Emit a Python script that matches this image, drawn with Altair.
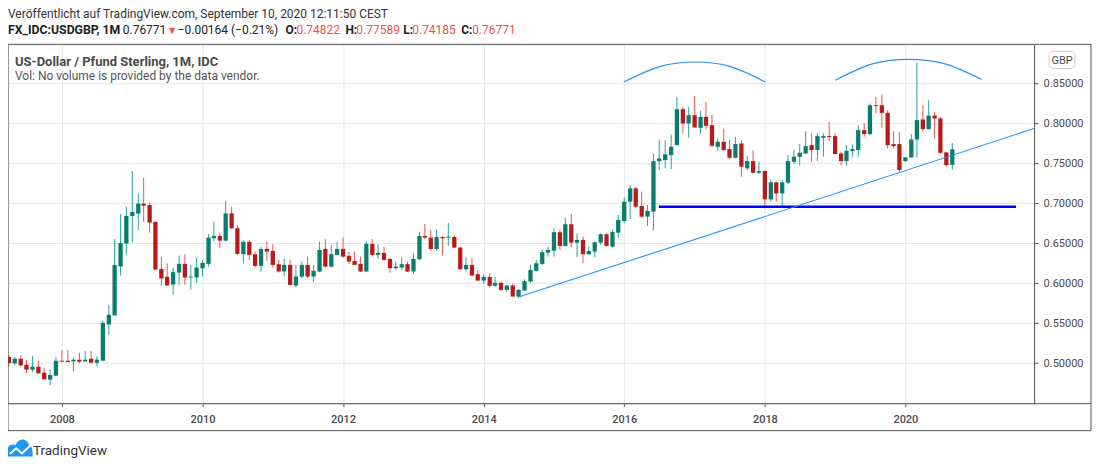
import altair as alt
import pandas as pd

# ---------------- data (monthly candles, Apr 2007 .. Sep 2020) ----------------
dates = pd.date_range("2007-04-01", periods=162, freq="MS").strftime("%Y-%m-%d").tolist()

opens = [
    0.5075, 0.4996, 0.5054, 0.4979, 0.4917, 0.4954, 0.4879, 0.4792, 0.4842,
    0.5029, 0.5029, 0.5021, 0.5042, 0.5021, 0.5054, 0.5004, 0.5029, 0.5483, 0.5596, 0.6209, 0.6496,
    0.6842, 0.6871, 0.6996, 0.6979, 0.6767, 0.6179, 0.6080, 0.5984, 0.6133, 0.6242, 0.6071, 0.6071,
    0.6187, 0.6242, 0.6563, 0.6592, 0.6533, 0.6875, 0.6688, 0.6363, 0.6517, 0.6362, 0.6217, 0.6429,
    0.6404, 0.6238, 0.6146, 0.6229, 0.5971, 0.6083, 0.6229, 0.6083, 0.6146, 0.6429, 0.6208, 0.6354,
    0.6429, 0.6342, 0.6279, 0.6242, 0.6146, 0.6492, 0.6354, 0.6379, 0.6304, 0.6188, 0.6196, 0.6238,
    0.6146, 0.6300, 0.6592, 0.6571, 0.6429, 0.6579, 0.6571, 0.6579, 0.6446, 0.6175, 0.6229, 0.6113,
    0.6033, 0.6079, 0.5967, 0.6004, 0.5917, 0.5971, 0.5833, 0.5908, 0.6021, 0.6154, 0.6242, 0.6383,
    0.6408, 0.6638, 0.6467, 0.6738, 0.6508, 0.6542, 0.6363, 0.6396, 0.6508, 0.6613, 0.6458, 0.6633,
    0.6779, 0.7021, 0.7188, 0.6967, 0.6833, 0.6896, 0.7529, 0.7542, 0.7604, 0.7729, 0.8179, 0.8000,
    0.8104, 0.7946, 0.8083, 0.7979, 0.7708, 0.7771, 0.7679, 0.7571, 0.7750, 0.7438, 0.7529, 0.7383,
    0.7404, 0.7050, 0.7263, 0.7125, 0.7258, 0.7521, 0.7583, 0.7625, 0.7729, 0.7667, 0.7821, 0.7842,
    0.7842, 0.7625, 0.7529, 0.7654, 0.7667, 0.7917, 0.7867, 0.8229, 0.8229, 0.8133, 0.7742, 0.7742,
    0.7529, 0.7575, 0.7800, 0.8050, 0.7929, 0.8100, 0.8063, 0.7638, 0.74822,
]
highs = [
    0.5104, 0.5075, 0.5092, 0.5042, 0.5092, 0.5029, 0.4942, 0.4917, 0.5079,
    0.5167, 0.5167, 0.5063, 0.5129, 0.5154, 0.5154, 0.5083, 0.5529, 0.5729, 0.6554, 0.6867, 0.6959,
    0.7404, 0.7125, 0.7321, 0.7009, 0.6779, 0.6329, 0.6250, 0.6196, 0.6346, 0.6363, 0.6229, 0.6321,
    0.6292, 0.6613, 0.6771, 0.6625, 0.7029, 0.6958, 0.6729, 0.6542, 0.6542, 0.6396, 0.6458, 0.6521,
    0.6488, 0.6292, 0.6304, 0.6292, 0.6229, 0.6271, 0.6333, 0.6229, 0.6521, 0.6550, 0.6479, 0.6521,
    0.6571, 0.6388, 0.6396, 0.6333, 0.6521, 0.6554, 0.6488, 0.6454, 0.6313, 0.6271, 0.6321, 0.6271,
    0.6375, 0.6646, 0.6742, 0.6667, 0.6671, 0.6588, 0.6754, 0.6604, 0.6458, 0.6321, 0.6313, 0.6167,
    0.6113, 0.6125, 0.6083, 0.6021, 0.5979, 0.6000, 0.5925, 0.6050, 0.6229, 0.6292, 0.6417, 0.6458,
    0.6688, 0.6667, 0.6821, 0.6867, 0.6625, 0.6583, 0.6458, 0.6521, 0.6625, 0.6625, 0.6675, 0.6854,
    0.7075, 0.7229, 0.7208, 0.7146, 0.6979, 0.7625, 0.7800, 0.7792, 0.7863, 0.8333, 0.8208, 0.8208,
    0.8342, 0.8158, 0.8271, 0.8104, 0.7813, 0.7938, 0.7792, 0.7833, 0.7792, 0.7596, 0.7667, 0.7521,
    0.7417, 0.7300, 0.7271, 0.7292, 0.7604, 0.7667, 0.7742, 0.7904, 0.7875, 0.7875, 0.7875, 0.8021,
    0.7875, 0.7646, 0.7729, 0.7738, 0.7979, 0.8000, 0.8250, 0.8333, 0.8363, 0.8167, 0.7904, 0.7896,
    0.7583, 0.7867, 0.8763, 0.8229, 0.8292, 0.8146, 0.8083, 0.7646, 0.77589,
]
lows = [
    0.4958, 0.4971, 0.4958, 0.4871, 0.4884, 0.4867, 0.4792, 0.4721, 0.4834,
    0.5017, 0.5013, 0.4896, 0.4996, 0.5017, 0.5000, 0.4958, 0.5029, 0.5354, 0.5596, 0.6096, 0.6354,
    0.6509, 0.6667, 0.6767, 0.6634, 0.6171, 0.5971, 0.5971, 0.5859, 0.5979, 0.5979, 0.5917, 0.5999,
    0.6083, 0.6208, 0.6521, 0.6438, 0.6521, 0.6679, 0.6354, 0.6250, 0.6292, 0.6196, 0.6138, 0.6279,
    0.6196, 0.6133, 0.6083, 0.5971, 0.5950, 0.6063, 0.6063, 0.6013, 0.6138, 0.6196, 0.6196, 0.6354,
    0.6321, 0.6238, 0.6229, 0.6138, 0.6146, 0.6333, 0.6304, 0.6283, 0.6133, 0.6167, 0.6167, 0.6138,
    0.6113, 0.6292, 0.6554, 0.6404, 0.6413, 0.6346, 0.6467, 0.6438, 0.6167, 0.6146, 0.6083, 0.6029,
    0.5992, 0.5946, 0.5958, 0.5904, 0.5888, 0.5833, 0.5813, 0.5908, 0.6000, 0.6146, 0.6229, 0.6333,
    0.6333, 0.6417, 0.6458, 0.6450, 0.6325, 0.6250, 0.6354, 0.6325, 0.6479, 0.6458, 0.6446, 0.6563,
    0.6750, 0.6804, 0.6938, 0.6813, 0.6717, 0.6658, 0.7417, 0.7438, 0.7429, 0.7729, 0.7875, 0.7821,
    0.7950, 0.7875, 0.7925, 0.7708, 0.7654, 0.7658, 0.7554, 0.7563, 0.7333, 0.7417, 0.7375, 0.7367,
    0.6938, 0.7021, 0.7021, 0.6938, 0.7242, 0.7492, 0.7479, 0.7613, 0.7521, 0.7529, 0.7583, 0.7779,
    0.7617, 0.7479, 0.7471, 0.7583, 0.7583, 0.7833, 0.7854, 0.8125, 0.7946, 0.7688, 0.7688, 0.7396,
    0.7521, 0.7575, 0.7571, 0.7904, 0.7929, 0.7813, 0.7617, 0.7458, 0.74185,
]
closes = [
    0.5000, 0.5054, 0.4971, 0.4917, 0.4954, 0.4871, 0.4796, 0.4850, 0.5029,
    0.5017, 0.5013, 0.5042, 0.5017, 0.5042, 0.5004, 0.5042, 0.5504, 0.5604, 0.6229, 0.6504, 0.6842,
    0.6892, 0.6996, 0.6971, 0.6759, 0.6171, 0.6059, 0.5971, 0.6138, 0.6242, 0.6071, 0.6083, 0.6196,
    0.6254, 0.6571, 0.6592, 0.6533, 0.6875, 0.6688, 0.6367, 0.6517, 0.6354, 0.6217, 0.6429, 0.6396,
    0.6229, 0.6146, 0.6229, 0.5979, 0.6083, 0.6229, 0.6083, 0.6154, 0.6417, 0.6208, 0.6363, 0.6429,
    0.6333, 0.6271, 0.6229, 0.6146, 0.6492, 0.6354, 0.6379, 0.6292, 0.6188, 0.6208, 0.6238, 0.6146,
    0.6304, 0.6592, 0.6571, 0.6429, 0.6579, 0.6563, 0.6583, 0.6446, 0.6175, 0.6229, 0.6096, 0.6033,
    0.6079, 0.5967, 0.6004, 0.5917, 0.5971, 0.5833, 0.5917, 0.6025, 0.6167, 0.6250, 0.6388, 0.6417,
    0.6638, 0.6467, 0.6738, 0.6508, 0.6542, 0.6363, 0.6404, 0.6513, 0.6613, 0.6467, 0.6642, 0.6792,
    0.7021, 0.7188, 0.6958, 0.6833, 0.6904, 0.7529, 0.7563, 0.7613, 0.7708, 0.8179, 0.8000, 0.8104,
    0.7950, 0.8083, 0.7971, 0.7721, 0.7771, 0.7667, 0.7571, 0.7742, 0.7458, 0.7529, 0.7383, 0.7404,
    0.7050, 0.7263, 0.7125, 0.7263, 0.7529, 0.7583, 0.7633, 0.7717, 0.7667, 0.7842, 0.7842, 0.7829,
    0.7617, 0.7529, 0.7658, 0.7679, 0.7917, 0.7867, 0.8229, 0.8217, 0.8133, 0.7729, 0.7717, 0.7417,
    0.7575, 0.7800, 0.8042, 0.7929, 0.8100, 0.8063, 0.7633, 0.7479, 0.76771,
]

# drawings on the chart (date, price)
support_dates = ["2016-06-29", "2021-07-29"]
support_prices = [0.6958, 0.6958]
trend_dates = ["2014-07-05", "2021-10-31"]
trend_prices = [0.5829, 0.7938]
arc1_dates = ["2015-12-30", "2016-07-04", "2017-01-05", "2017-07-07", "2018-01-03"]
arc1_prices = [0.8520, 0.8713, 0.8770, 0.8713, 0.8520]
arc2_dates = ["2019-01-01", "2019-07-09", "2020-01-17", "2020-07-26", "2021-01-31"]
arc2_prices = [0.8541, 0.8744, 0.8804, 0.8746, 0.8550]

y_ticks = [0.50, 0.55, 0.60, 0.65, 0.70, 0.75, 0.80, 0.85]
x_tick_years = [2008, 2010, 2012, 2014, 2016, 2018, 2020]

# ---------------- styling ----------------
FONT = "Roboto"
UP_BODY, UP_WICK = "#0a7d6c", "#26a69a"
DN_BODY, DN_WICK = "#b71c1c", "#ef5350"
TXT = "#4a4a4a"
FRAME = "#555555"
W, H = 1028, 360

df = pd.DataFrame({"date": dates, "open": opens, "high": highs, "low": lows, "close": closes})

xscale = alt.Scale(type="utc", domain=["2007-03-27", "2021-10-31"], padding=0, nice=False)
yscale = alt.Scale(domain=[0.4491, 0.8991], zero=False, nice=False, padding=0)

x_axis = alt.Axis(
    values=[alt.DateTime(year=y, month=1, date=1, utc=True) for y in x_tick_years],
    format="%Y", title=None, grid=True, gridColor="#e6e6e6", domain=False,
    tickColor=FRAME, tickSize=3, labelPadding=7, labelFont=FONT, labelFontSize=11,
    labelColor=TXT, labelFontWeight=500,
)
y_axis = alt.Axis(
    orient="right", values=y_ticks, format=".5f", title=None, grid=True,
    gridColor="#e6e6e6", domainColor=FRAME, tickColor=FRAME, tickSize=4,
    labelPadding=5, labelFont=FONT, labelFontSize=11, labelColor=TXT,
)

base = alt.Chart(df)
is_up = "datum.close >= datum.open"

wicks = base.mark_rule(strokeWidth=1).encode(
    x=alt.X("date:T", scale=xscale, axis=x_axis),
    y=alt.Y("low:Q", scale=yscale, axis=y_axis),
    y2="high:Q",
    color=alt.condition(is_up, alt.value(UP_WICK), alt.value(DN_WICK)),
)
bodies = base.mark_bar(size=4.3).encode(
    x="date:T",
    y="open:Q",
    y2="close:Q",
    color=alt.condition(is_up, alt.value(UP_BODY), alt.value(DN_BODY)),
)

def line_layer(d, p, color, width, interp="linear"):
    return alt.Chart(pd.DataFrame({"date": d, "price": p})).mark_line(
        color=color, strokeWidth=width, interpolate=interp
    ).encode(x="date:T", y="price:Q")

support = line_layer(support_dates, support_prices, "#0000ff", 2.4)
trend = line_layer(trend_dates, trend_prices, "#2196f3", 1.1)
arc1 = line_layer(arc1_dates, arc1_prices, "#2196f3", 1.2, "natural")
arc2 = line_layer(arc2_dates, arc2_prices, "#2196f3", 1.2, "natural")

one = pd.DataFrame({"k": [0]})

def txt(s, x, y, size=12, color=TXT, weight="normal", align="left"):
    return alt.Chart(one).mark_text(
        text=s, font=FONT, fontSize=size, color=color, fontWeight=weight,
        align=align, baseline="alphabetic",
    ).encode(x=alt.value(x), y=alt.value(y))

def rule(x1, x2, y1, y2):
    return alt.Chart(one).mark_rule(color=FRAME, strokeWidth=1).encode(
        x=alt.value(x1), x2=alt.value(x2), y=alt.value(y1), y2=alt.value(y2)
    )

RED = "#ef5350"
DARK = "#222222"
texts = [
    txt("Veröffentlicht auf TradingView.com, September 10, 2020 12:11:50 CEST", 0, -26, 12, "#333333"),
    txt("FX_IDC:USDGBP, 1M", 0, -10, 12.3, DARK, "bold"),
    txt("0.76771", 115, -10, 12, DARK),
    txt("▼", 159, -10, 11, RED),
    txt("−0.00164 (−0.21%)", 170, -10, 12, DARK),
    txt("O:", 278, -10, 12, DARK, "bold"),
    txt("0.74822", 289, -10, 12, RED),
    txt("H:", 338, -10, 12, DARK, "bold"),
    txt("0.77589", 349, -10, 12, RED),
    txt("L:", 396, -10, 12, DARK, "bold"),
    txt("0.74185", 405, -10, 12, RED),
    txt("C:", 454, -10, 12, DARK, "bold"),
    txt("0.76771", 465, -10, 12, RED),
    txt("US-Dollar / Pfund Sterling, 1M, IDC", 7, 22, 13, TXT, "bold"),
    txt("Vol: No volume is provided by the data vendor.", 7, 36, 12, "#555555"),
    txt("GBP", 1056, 20, 11, TXT, "normal", "center"),
    txt("TradingView", 25, 411, 13.5, "#333333"),
]

gbp_box = alt.Chart(one).mark_rect(
    fill="white", stroke="#cccccc", strokeWidth=1, cornerRadius=4
).encode(x=alt.value(1043), x2=alt.value(1069), y=alt.value(7), y2=alt.value(24))

frame = [
    rule(0, 1028, 0, 0),
    rule(1028, 1085, 0, 0),
    rule(0, 1085, 360, 360),
    rule(0, 1085, 387, 387),
    rule(0, 0, 0, 387),
    rule(1085, 1085, 0, 387),
]

logo = alt.Chart(one).mark_point(
    shape="M -1 0.55 L -1 0.05 C -1 -0.35 -0.6 -0.5 -0.35 -0.35 C -0.15 -0.95 0.6 -0.95 0.72 -0.3 C 1 -0.3 1 0.1 1 0.55 Z",
    filled=True, fill="#2196f3", opacity=1, size=650, strokeWidth=0,
).encode(x=alt.value(12), y=alt.value(406))
logo_zig = alt.Chart(one).mark_point(
    shape="M -0.8 0.35 L -0.3 -0.1 L 0.15 0.3 L 0.8 -0.3",
    filled=False, stroke="white", strokeWidth=2, opacity=1, size=650,
).encode(x=alt.value(12), y=alt.value(406))

chart = alt.layer(
    wicks, bodies, support, trend, arc1, arc2, gbp_box, logo, logo_zig, *frame, *texts
).properties(
    width=W, height=H,
    autosize=alt.AutoSizeParams(type="none"),
    padding={"left": 0, "top": 36, "right": 58, "bottom": 60},
).configure_view(stroke=None).configure(background="white")

chart.save("out.html", embed_options={"renderer": "svg", "actions": False})
